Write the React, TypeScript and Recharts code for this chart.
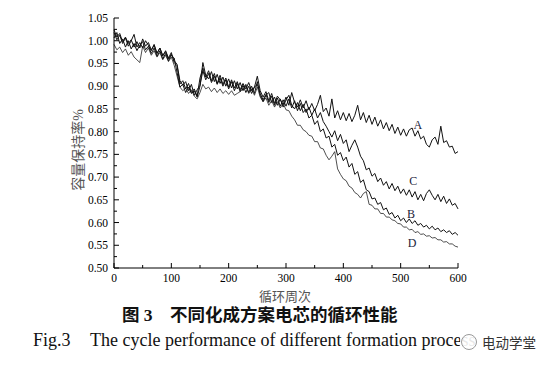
import { LineChart, Line, XAxis, YAxis, ReferenceDot } from 'recharts';

// sampled every 5 cycles
const CYCLES = Array.from({ length: 121 }, (_, i) => i * 5);

const SERIES_A = [
  1.018, 1.002, 1.012, 0.994, 1.006, 0.988, 1.000, 1.014, 0.986, 0.996,
  0.984, 1.000, 0.990, 0.978, 0.992, 0.972, 0.984, 0.966, 0.978, 0.962,
  0.974, 0.952, 0.945, 0.905, 0.912, 0.894, 0.906, 0.886, 0.894, 0.878,
  0.918, 0.940, 0.920, 0.934, 0.912, 0.928, 0.906, 0.924, 0.904, 0.918,
  0.898, 0.914, 0.896, 0.910, 0.892, 0.906, 0.894, 0.908, 0.890, 0.898,
  0.922, 0.890, 0.876, 0.888, 0.868, 0.884, 0.862, 0.878, 0.870, 0.860,
  0.876, 0.858, 0.886, 0.864, 0.854, 0.870, 0.852, 0.868, 0.848, 0.862,
  0.846, 0.860, 0.880, 0.844, 0.852, 0.834, 0.872, 0.830, 0.846, 0.826,
  0.842, 0.824, 0.840, 0.822, 0.836, 0.858, 0.826, 0.842, 0.820, 0.836,
  0.816, 0.832, 0.812, 0.826, 0.806, 0.820, 0.802, 0.816, 0.796, 0.810,
  0.792, 0.806, 0.790, 0.804, 0.808, 0.790, 0.802, 0.784, 0.790, 0.772,
  0.766, 0.782, 0.788, 0.772, 0.812, 0.776, 0.780, 0.766, 0.768, 0.752,
  0.756,
];

const SERIES_B = [
  1.024, 1.008, 1.016, 0.998, 1.008, 0.994, 1.002, 0.986, 0.998, 0.984,
  1.004, 0.988, 0.996, 0.980, 0.990, 0.972, 0.984, 0.968, 0.976, 0.960,
  0.970, 0.956, 0.948, 0.912, 0.902, 0.910, 0.890, 0.904, 0.880, 0.892,
  0.902, 0.934, 0.914, 0.928, 0.908, 0.922, 0.904, 0.918, 0.900, 0.914,
  0.894, 0.910, 0.890, 0.906, 0.888, 0.902, 0.886, 0.900, 0.884, 0.898,
  0.904, 0.884, 0.870, 0.882, 0.864, 0.878, 0.858, 0.874, 0.856, 0.870,
  0.856, 0.872, 0.852, 0.868, 0.846, 0.862, 0.842, 0.850, 0.830, 0.836,
  0.816, 0.824, 0.800, 0.806, 0.786, 0.790, 0.766, 0.772, 0.748, 0.754,
  0.736, 0.744, 0.722, 0.730, 0.706, 0.712, 0.688, 0.694, 0.672, 0.668,
  0.652, 0.654, 0.640, 0.644, 0.628, 0.632, 0.618, 0.622, 0.610, 0.616,
  0.604, 0.610, 0.600, 0.608, 0.598, 0.604, 0.594, 0.598, 0.590, 0.594,
  0.586, 0.592, 0.584, 0.588, 0.580, 0.584, 0.578, 0.582, 0.574, 0.578,
  0.572,
];

const SERIES_C = [
  1.006, 1.018, 0.994, 1.004, 0.986, 1.000, 0.982, 0.994, 0.978, 0.990,
  0.998, 0.980, 0.988, 0.972, 0.984, 0.966, 0.978, 0.960, 0.972, 0.956,
  0.968, 0.962, 0.930, 0.898, 0.904, 0.886, 0.898, 0.884, 0.890, 0.876,
  0.900, 0.952, 0.924, 0.916, 0.932, 0.910, 0.926, 0.906, 0.920, 0.900,
  0.916, 0.896, 0.912, 0.894, 0.908, 0.890, 0.904, 0.886, 0.900, 0.884,
  0.910, 0.880, 0.866, 0.880, 0.886, 0.864, 0.876, 0.858, 0.872, 0.854,
  0.870, 0.880, 0.858, 0.850, 0.864, 0.846, 0.860, 0.842, 0.854, 0.836,
  0.850, 0.830, 0.842, 0.822, 0.812, 0.800, 0.788, 0.802, 0.780, 0.794,
  0.774, 0.782, 0.756, 0.770, 0.782, 0.766, 0.746, 0.736, 0.716, 0.720,
  0.702, 0.708, 0.690, 0.698, 0.682, 0.690, 0.674, 0.686, 0.670, 0.680,
  0.664, 0.674, 0.660, 0.672, 0.656, 0.668, 0.650, 0.662, 0.648, 0.664,
  0.672, 0.660, 0.650, 0.662, 0.646, 0.658, 0.642, 0.652, 0.638, 0.642,
  0.630,
];

const SERIES_D = [
  0.992, 0.980, 0.986, 0.974, 0.982, 0.968, 0.976, 0.964, 0.958, 0.952,
  0.988, 0.974, 0.984, 0.968, 0.978, 0.964, 0.974, 0.958, 0.968, 0.954,
  0.964, 0.946, 0.922, 0.898, 0.890, 0.896, 0.884, 0.892, 0.878, 0.872,
  0.886, 0.904, 0.894, 0.898, 0.888, 0.896, 0.886, 0.894, 0.884, 0.890,
  0.882, 0.890, 0.880, 0.884, 0.888, 0.894, 0.900, 0.884, 0.894, 0.880,
  0.898, 0.876, 0.866, 0.874, 0.858, 0.868, 0.854, 0.866, 0.852, 0.862,
  0.848, 0.846, 0.834, 0.826, 0.814, 0.814, 0.804, 0.800, 0.792, 0.790,
  0.778, 0.778, 0.764, 0.762, 0.748, 0.738, 0.746, 0.756, 0.718, 0.706,
  0.696, 0.692, 0.680, 0.676, 0.666, 0.662, 0.654, 0.664, 0.668, 0.640,
  0.638, 0.630, 0.630, 0.620, 0.620, 0.612, 0.612, 0.606, 0.604, 0.598,
  0.597, 0.590, 0.590, 0.584, 0.585, 0.578, 0.580, 0.574, 0.575, 0.570,
  0.571, 0.566, 0.567, 0.562, 0.562, 0.557, 0.558, 0.553, 0.553, 0.548,
  0.546,
];

const X_TICKS = [0, 50, 100, 150, 200, 250, 300, 350, 400, 450, 500, 550, 600];
const Y_TICKS = [
  0.5, 0.525, 0.55, 0.575, 0.6, 0.625, 0.65, 0.675, 0.7, 0.725, 0.75, 0.775,
  0.8, 0.825, 0.85, 0.875, 0.9, 0.925, 0.95, 0.975, 1.0, 1.025, 1.05,
];

const CURVE_LABELS = [
  { name: 'A', cycle: 530, value: 0.815 },
  { name: 'C', cycle: 522, value: 0.691 },
  { name: 'B', cycle: 518, value: 0.62 },
  { name: 'D', cycle: 520, value: 0.556 },
];

const data = CYCLES.map((c, i) => ({
  cycle: c,
  A: SERIES_A[i],
  B: SERIES_B[i],
  C: SERIES_C[i],
  D: SERIES_D[i],
}));

const SERIF = '"Liberation Serif", "DejaVu Serif", serif';
const CJK = '"Liberation Serif", "Noto Sans CJK SC", sans-serif';

function LeftTick(props: any) {
  const { x, y, index, payload } = props;
  const major = index % 2 === 0;
  return (
    <g>
      <line x1={x} x2={x + (major ? 5 : 3)} y1={y} y2={y} stroke="#000" />
      {major && (
        <text x={x - 6} y={y} dy={4} textAnchor="end" fontSize={11.5} fontFamily={SERIF} fill="#000">
          {payload.value.toFixed(2)}
        </text>
      )}
    </g>
  );
}

function RightTick(props: any) {
  const { x, y, index } = props;
  const major = index % 2 === 0;
  return <line x1={x} x2={x - (major ? 5 : 3)} y1={y} y2={y} stroke="#000" />;
}

function BottomTick(props: any) {
  const { x, y, index, payload } = props;
  const major = index % 2 === 0;
  return (
    <g>
      <line x1={x} x2={x} y1={y} y2={y - (major ? 5 : 3)} stroke="#000" />
      {major && (
        <text x={x} y={y + 14} textAnchor="middle" fontSize={11.5} fontFamily={SERIF} fill="#000">
          {payload.value}
        </text>
      )}
    </g>
  );
}

export default function App() {
  return (
    <div style={{ position: 'absolute', left: 0, top: 0, width: 554, height: 366, background: '#fff' }}>
      <LineChart width={554} height={300} data={data} margin={{ top: 18, right: 96, left: 70, bottom: 12 }}>
        <XAxis
          dataKey="cycle"
          type="number"
          domain={[0, 600]}
          ticks={X_TICKS}
          interval={0}
          tickSize={0}
          tickMargin={0}
          tickLine={false}
          tick={BottomTick}
          height={20}
          axisLine={{ stroke: '#000' }}
        />
        <XAxis xAxisId="top" orientation="top" type="number" domain={[0, 600]} height={0} tick={false} tickLine={false} axisLine={{ stroke: '#000' }} />
        <YAxis
          type="number"
          domain={[0.5, 1.05]}
          ticks={Y_TICKS}
          interval={0}
          tickSize={0}
          tickMargin={0}
          tickLine={false}
          tick={LeftTick}
          width={44}
          allowDataOverflow
          axisLine={{ stroke: '#000' }}
        />
        <YAxis
          yAxisId="right"
          orientation="right"
          type="number"
          domain={[0.5, 1.05]}
          ticks={Y_TICKS}
          interval={0}
          tickSize={0}
          tickMargin={0}
          tickLine={false}
          tick={RightTick}
          width={0}
          axisLine={{ stroke: '#000' }}
        />
        <Line dataKey="D" stroke="#222" strokeWidth={0.8} dot={false} isAnimationActive={false} />
        <Line dataKey="B" stroke="#111" strokeWidth={1} dot={false} isAnimationActive={false} />
        <Line dataKey="C" stroke="#111" strokeWidth={1} dot={false} isAnimationActive={false} />
        <Line dataKey="A" stroke="#111" strokeWidth={1} dot={false} isAnimationActive={false} />
        {CURVE_LABELS.map((l) => (
          <ReferenceDot
            key={l.name}
            x={l.cycle}
            y={l.value}
            r={0}
            stroke="none"
            label={{ value: l.name, position: 'center', fontSize: 12, fontFamily: SERIF, fill: '#22243a' }}
          />
        ))}
      </LineChart>
      <div
        style={{
          position: 'absolute', left: 77, top: 150, transform: 'translate(-50%, -50%) rotate(-90deg)',
          fontFamily: CJK, fontSize: 14, color: '#555', whiteSpace: 'nowrap',
        }}
      >
        容量保持率%
      </div>
      <div
        style={{
          position: 'absolute', left: 285, top: 296, transform: 'translate(-50%, -50%)',
          fontFamily: CJK, fontSize: 13, color: '#555', whiteSpace: 'nowrap', lineHeight: '15px',
        }}
      >
        循环周次
      </div>
      <div
        style={{
          position: 'absolute', left: 122, top: 305, fontFamily: CJK, fontSize: 17.5,
          fontWeight: 'bold', color: '#111', whiteSpace: 'nowrap', lineHeight: '21px',
        }}
      >
        图 3
      </div>
      <div
        style={{
          position: 'absolute', left: 170, top: 305, fontFamily: CJK, fontSize: 17.5,
          fontWeight: 'bold', color: '#111', whiteSpace: 'nowrap', lineHeight: '21px',
        }}
      >
        不同化成方案电芯的循环性能
      </div>
      <div
        style={{
          position: 'absolute', left: 33, top: 329, fontFamily: SERIF, fontSize: 18,
          color: '#111', whiteSpace: 'nowrap', lineHeight: '22px',
        }}
      >
        Fig.3
      </div>
      <div
        style={{
          position: 'absolute', left: 90, top: 329, fontFamily: SERIF, fontSize: 18,
          color: '#111', whiteSpace: 'nowrap', lineHeight: '22px',
        }}
      >
        The cycle performance of different formation process
      </div>
      <div
        style={{
          position: 'absolute', left: 460, top: 333, width: 94, height: 20, background: 'rgba(255,255,255,0.9)',
        }}
      />
      <div
        style={{
          position: 'absolute', left: 461, top: 334, width: 16, height: 16, borderRadius: '50%',
          border: '1px solid #999', boxSizing: 'border-box',
        }}
      />
      <div
        style={{
          position: 'absolute', left: 482, top: 333, fontFamily: '"Noto Sans CJK SC", sans-serif', fontSize: 13.5,
          color: '#333', whiteSpace: 'nowrap', lineHeight: '18px',
        }}
      >
        电动学堂
      </div>
    </div>
  );
}
